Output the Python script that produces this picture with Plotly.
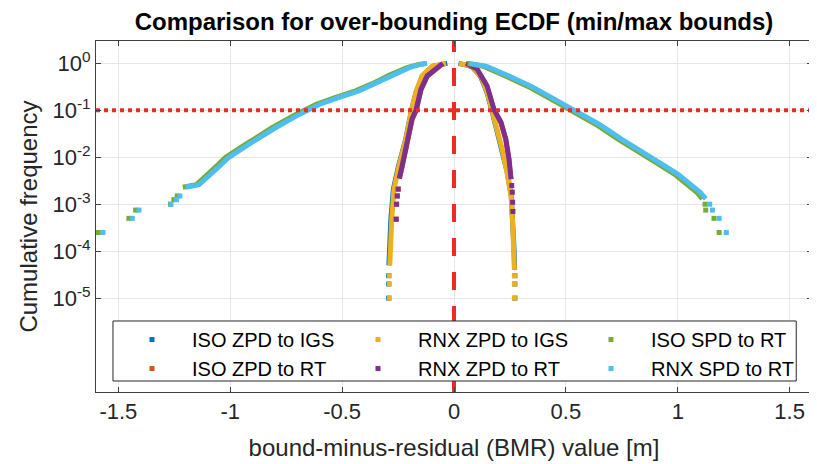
import plotly.graph_objects as go

# ---------------- data ----------------
x_axis_range = [-1.6, 1.6]
y_axis_log_range = [-7, 0.477]
x_tick_vals = [-1.5, -1, -0.5, 0, 0.5, 1, 1.5]
x_tick_text = ["-1.5", "-1", "-0.5", "0", "0.5", "1", "1.5"]
y_tick_vals = [1e-5, 1e-4, 1e-3, 1e-2, 1e-1, 1]
y_tick_text = ["10<sup>-5</sup>", "10<sup>-4</sup>", "10<sup>-3</sup>",
               "10<sup>-2</sup>", "10<sup>-1</sup>", "10<sup>0</sup>"]

bmr_zero = 0.0
cdf_threshold = 0.1

# ISO ZPD to IGS
iso_zpd_igs_left_x = [-0.03, -0.095, -0.141, -0.169, -0.19, -0.216, -0.248, -0.271, -0.282, -0.288, -0.291]
iso_zpd_igs_left_y = [1.0, 0.87, 0.54, 0.245, 0.1, 0.024, 0.0065, 0.0021, 0.0005, 0.00015, 0.00005]
iso_zpd_igs_right_x = [0.02, 0.078, 0.118, 0.147, 0.169, 0.191, 0.215, 0.238, 0.256, 0.264, 0.269, 0.271]
iso_zpd_igs_right_y = [1.0, 0.87, 0.54, 0.245, 0.1, 0.04, 0.0148, 0.0048, 0.00148, 0.00041, 9.3e-5, 4e-5]
iso_zpd_igs_tail_x = [-0.292, -0.292, -0.292, 0.272, 0.272, 0.272]
iso_zpd_igs_tail_y = [3e-5, 2e-5, 1e-5, 3e-5, 2e-5, 1e-5]

# ISO ZPD to RT
iso_zpd_rt_left_x = [-0.048, -0.066, -0.119, -0.147, -0.169, -0.187, -0.209, -0.231, -0.244]
iso_zpd_rt_left_y = [1.0, 0.87, 0.54, 0.28, 0.1, 0.065, 0.0174, 0.0065, 0.0035]
iso_zpd_rt_right_x = [0.05, 0.1, 0.146, 0.179, 0.209, 0.231, 0.245, 0.254]
iso_zpd_rt_right_y = [1.0, 0.76, 0.33, 0.1, 0.056, 0.024, 0.0091, 0.0034]
iso_zpd_rt_tail_x = [-0.249, -0.253, -0.256, -0.258, 0.257, 0.259, 0.261, 0.262]
iso_zpd_rt_tail_y = [0.0021, 0.0015, 0.001, 0.00048, 0.0025, 0.0018, 0.0011, 0.0007]

# RNX ZPD to IGS
rnx_zpd_igs_left_x = [-0.036, -0.098, -0.143, -0.17, -0.19, -0.215, -0.246, -0.268, -0.278, -0.284, -0.287]
rnx_zpd_igs_left_y = [1.0, 0.87, 0.54, 0.245, 0.1, 0.024, 0.0065, 0.0021, 0.0005, 0.00015, 0.00005]
rnx_zpd_igs_right_x = [0.022, 0.08, 0.12, 0.148, 0.17, 0.192, 0.215, 0.237, 0.255, 0.262, 0.267, 0.27]
rnx_zpd_igs_right_y = [1.0, 0.87, 0.54, 0.245, 0.1, 0.04, 0.0148, 0.0048, 0.00148, 0.00041, 9.3e-5, 4e-5]
rnx_zpd_igs_tail_x = [-0.289, -0.289, -0.289, 0.27, 0.27, 0.27]
rnx_zpd_igs_tail_y = [3e-5, 2e-5, 1e-5, 3e-5, 2e-5, 1e-5]

# RNX ZPD to RT
rnx_zpd_rt_left_x = [-0.05, -0.067, -0.12, -0.148, -0.17, -0.188, -0.21, -0.232, -0.245]
rnx_zpd_rt_left_y = [1.0, 0.87, 0.54, 0.28, 0.1, 0.065, 0.0174, 0.0065, 0.0035]
rnx_zpd_rt_right_x = [0.054, 0.103, 0.148, 0.18, 0.21, 0.232, 0.246, 0.255]
rnx_zpd_rt_right_y = [1.0, 0.76, 0.33, 0.1, 0.056, 0.024, 0.0091, 0.0034]
rnx_zpd_rt_tail_x = [-0.25, -0.254, -0.257, -0.259, 0.258, 0.26, 0.262, 0.263]
rnx_zpd_rt_tail_y = [0.0021, 0.0015, 0.001, 0.00048, 0.0025, 0.0018, 0.0011, 0.0007]

# ISO SPD to RT
iso_spd_rt_left_x = [-0.125, -0.158, -0.21, -0.29, -0.365, -0.44, -0.535, -0.615, -0.705, -0.815, -0.93, -1.02, -1.078, -1.152, -1.212]
iso_spd_rt_left_y = [1.0, 0.95, 0.81, 0.56, 0.37, 0.26, 0.185, 0.135, 0.083, 0.042, 0.019, 0.01, 0.0055, 0.0026, 0.0023]
iso_spd_rt_right_x = [0.06, 0.13, 0.23, 0.335, 0.455, 0.535, 0.635, 0.735, 0.835, 0.905, 0.985, 1.035, 1.085, 1.11]
iso_spd_rt_right_y = [1.0, 0.87, 0.54, 0.316, 0.151, 0.095, 0.05, 0.024, 0.0117, 0.0076, 0.0044, 0.0028, 0.0018, 0.0013]
iso_spd_rt_tail_x = [-1.237, -1.252, -1.267, -1.423, -1.453, -1.59, 1.122, 1.125, 1.162, 1.185]
iso_spd_rt_tail_y = [1.5e-3, 1.25e-3, 1e-3, 7.5e-4, 5e-4, 2.5e-4, 1e-3, 7.5e-4, 5e-4, 2.5e-4]

# RNX SPD to RT
rnx_spd_rt_left_x = [-0.12, -0.15, -0.2, -0.277, -0.35, -0.425, -0.52, -0.6, -0.69, -0.8, -0.916, -1.006, -1.064, -1.14, -1.2]
rnx_spd_rt_left_y = [1.0, 0.95, 0.81, 0.56, 0.37, 0.26, 0.185, 0.135, 0.083, 0.042, 0.019, 0.01, 0.0055, 0.0026, 0.0023]
rnx_spd_rt_right_x = [0.067, 0.143, 0.246, 0.35, 0.47, 0.55, 0.65, 0.75, 0.85, 0.92, 1.0, 1.05, 1.1, 1.125]
rnx_spd_rt_right_y = [1.0, 0.87, 0.54, 0.316, 0.151, 0.095, 0.05, 0.024, 0.0117, 0.0076, 0.0044, 0.0028, 0.0018, 0.0013]
rnx_spd_rt_tail_x = [-1.225, -1.24, -1.265, -1.408, -1.438, -1.569, 1.143, 1.155, 1.185, 1.217]
rnx_spd_rt_tail_y = [1.5e-3, 1.25e-3, 1e-3, 7.5e-4, 5e-4, 2.5e-4, 1e-3, 7.5e-4, 5e-4, 2.5e-4]

series = [
    ("ISO ZPD to IGS", "#0072BD", "legend", iso_zpd_igs_left_x, iso_zpd_igs_left_y, iso_zpd_igs_right_x, iso_zpd_igs_right_y, iso_zpd_igs_tail_x, iso_zpd_igs_tail_y),
    ("ISO ZPD to RT", "#D95319", "legend", iso_zpd_rt_left_x, iso_zpd_rt_left_y, iso_zpd_rt_right_x, iso_zpd_rt_right_y, iso_zpd_rt_tail_x, iso_zpd_rt_tail_y),
    ("RNX ZPD to IGS", "#EDB120", "legend2", rnx_zpd_igs_left_x, rnx_zpd_igs_left_y, rnx_zpd_igs_right_x, rnx_zpd_igs_right_y, rnx_zpd_igs_tail_x, rnx_zpd_igs_tail_y),
    ("RNX ZPD to RT", "#7E2F8E", "legend2", rnx_zpd_rt_left_x, rnx_zpd_rt_left_y, rnx_zpd_rt_right_x, rnx_zpd_rt_right_y, rnx_zpd_rt_tail_x, rnx_zpd_rt_tail_y),
    ("ISO SPD to RT", "#77AC30", "legend3", iso_spd_rt_left_x, iso_spd_rt_left_y, iso_spd_rt_right_x, iso_spd_rt_right_y, iso_spd_rt_tail_x, iso_spd_rt_tail_y),
    ("RNX SPD to RT", "#4DBEEE", "legend3", rnx_spd_rt_left_x, rnx_spd_rt_left_y, rnx_spd_rt_right_x, rnx_spd_rt_right_y, rnx_spd_rt_tail_x, rnx_spd_rt_tail_y),
]

fig = go.Figure()
for name, color, legend_id, lx, ly, rx, ry, tx, ty in series:
    fig.add_trace(go.Scatter(
        x=lx + [None] + rx, y=ly + [None] + ry, mode="lines",
        line=dict(color=color, width=5), showlegend=False, hoverinfo="skip"))
    fig.add_trace(go.Scatter(
        x=tx, y=ty, mode="markers", name=name, legend=legend_id,
        marker=dict(color=color, symbol="square", size=5, line=dict(width=0))))

# reference lines
fig.add_trace(go.Scatter(x=x_axis_range, y=[cdf_threshold, cdf_threshold], mode="lines",
                         line=dict(color="#ee2a24", width=4, dash="4px,4px"),
                         showlegend=False, hoverinfo="skip"))
fig.add_trace(go.Scatter(x=[bmr_zero, bmr_zero], y=[10 ** y_axis_log_range[0], 10 ** y_axis_log_range[1]],
                         mode="lines", line=dict(color="#ee2a24", width=4, dash="18px,16px"),
                         showlegend=False, hoverinfo="skip"))

axis_common = dict(showgrid=True, gridcolor="#e6e6e6", gridwidth=1, showline=True,
                   linecolor="#404040", linewidth=1, mirror="ticks", ticks="inside",
                   ticklen=5, tickcolor="#404040", zeroline=False,
                   tickfont=dict(size=22, color="#262626"))

fig.update_xaxes(range=x_axis_range, tickvals=x_tick_vals, ticktext=x_tick_text,
                 title=dict(text="bound-minus-residual (BMR) value [m]",
                            font=dict(size=24, color="#262626")),
                 **axis_common)
fig.update_yaxes(type="log", range=y_axis_log_range, tickvals=y_tick_vals, ticktext=y_tick_text,
                 title=dict(text="Cumulative frequency", font=dict(size=24, color="#262626"),
                            standoff=8),
                 **axis_common)

# legend frame (white, opaque) drawn above the data
fig.add_shape(type="rect", xref="paper", yref="paper", x0=0.0237, x1=0.978, y0=0.0313, y1=0.2023,
              fillcolor="white", line=dict(color="#262626", width=1), layer="above")

# page body has an 8px margin: figure is 809x456 so it ends at the window edge
fig_w, fig_h = 809, 456
pad = 8
legend_common = dict(orientation="v", yanchor="top", xanchor="left", y=0.205,
                     bgcolor="rgba(0,0,0,0)", borderwidth=0, itemwidth=70,
                     tracegroupgap=0, traceorder="normal",
                     font=dict(size=20, color="#000000"))

fig.update_layout(
    width=fig_w, height=fig_h,
    margin=dict(l=96 - pad, r=5, t=41 - pad, b=72),
    paper_bgcolor="white", plot_bgcolor="white",
    font=dict(family="Liberation Sans, Arial, sans-serif", size=22, color="#262626"),
    title=dict(text="<b>Comparison for over-bounding ECDF (min/max bounds)</b>",
               x=0.5, xref="paper", xanchor="center", y=1 - (21.5 - pad) / fig_h, yanchor="middle",
               font=dict(size=24, color="black")),
    legend=dict(x=(112 - 96) / 716, **legend_common),
    legend2=dict(x=(338 - 96) / 716, **legend_common),
    legend3=dict(x=(571 - 96) / 716, **legend_common),
    showlegend=True,
)

fig.write_html("out.html")
